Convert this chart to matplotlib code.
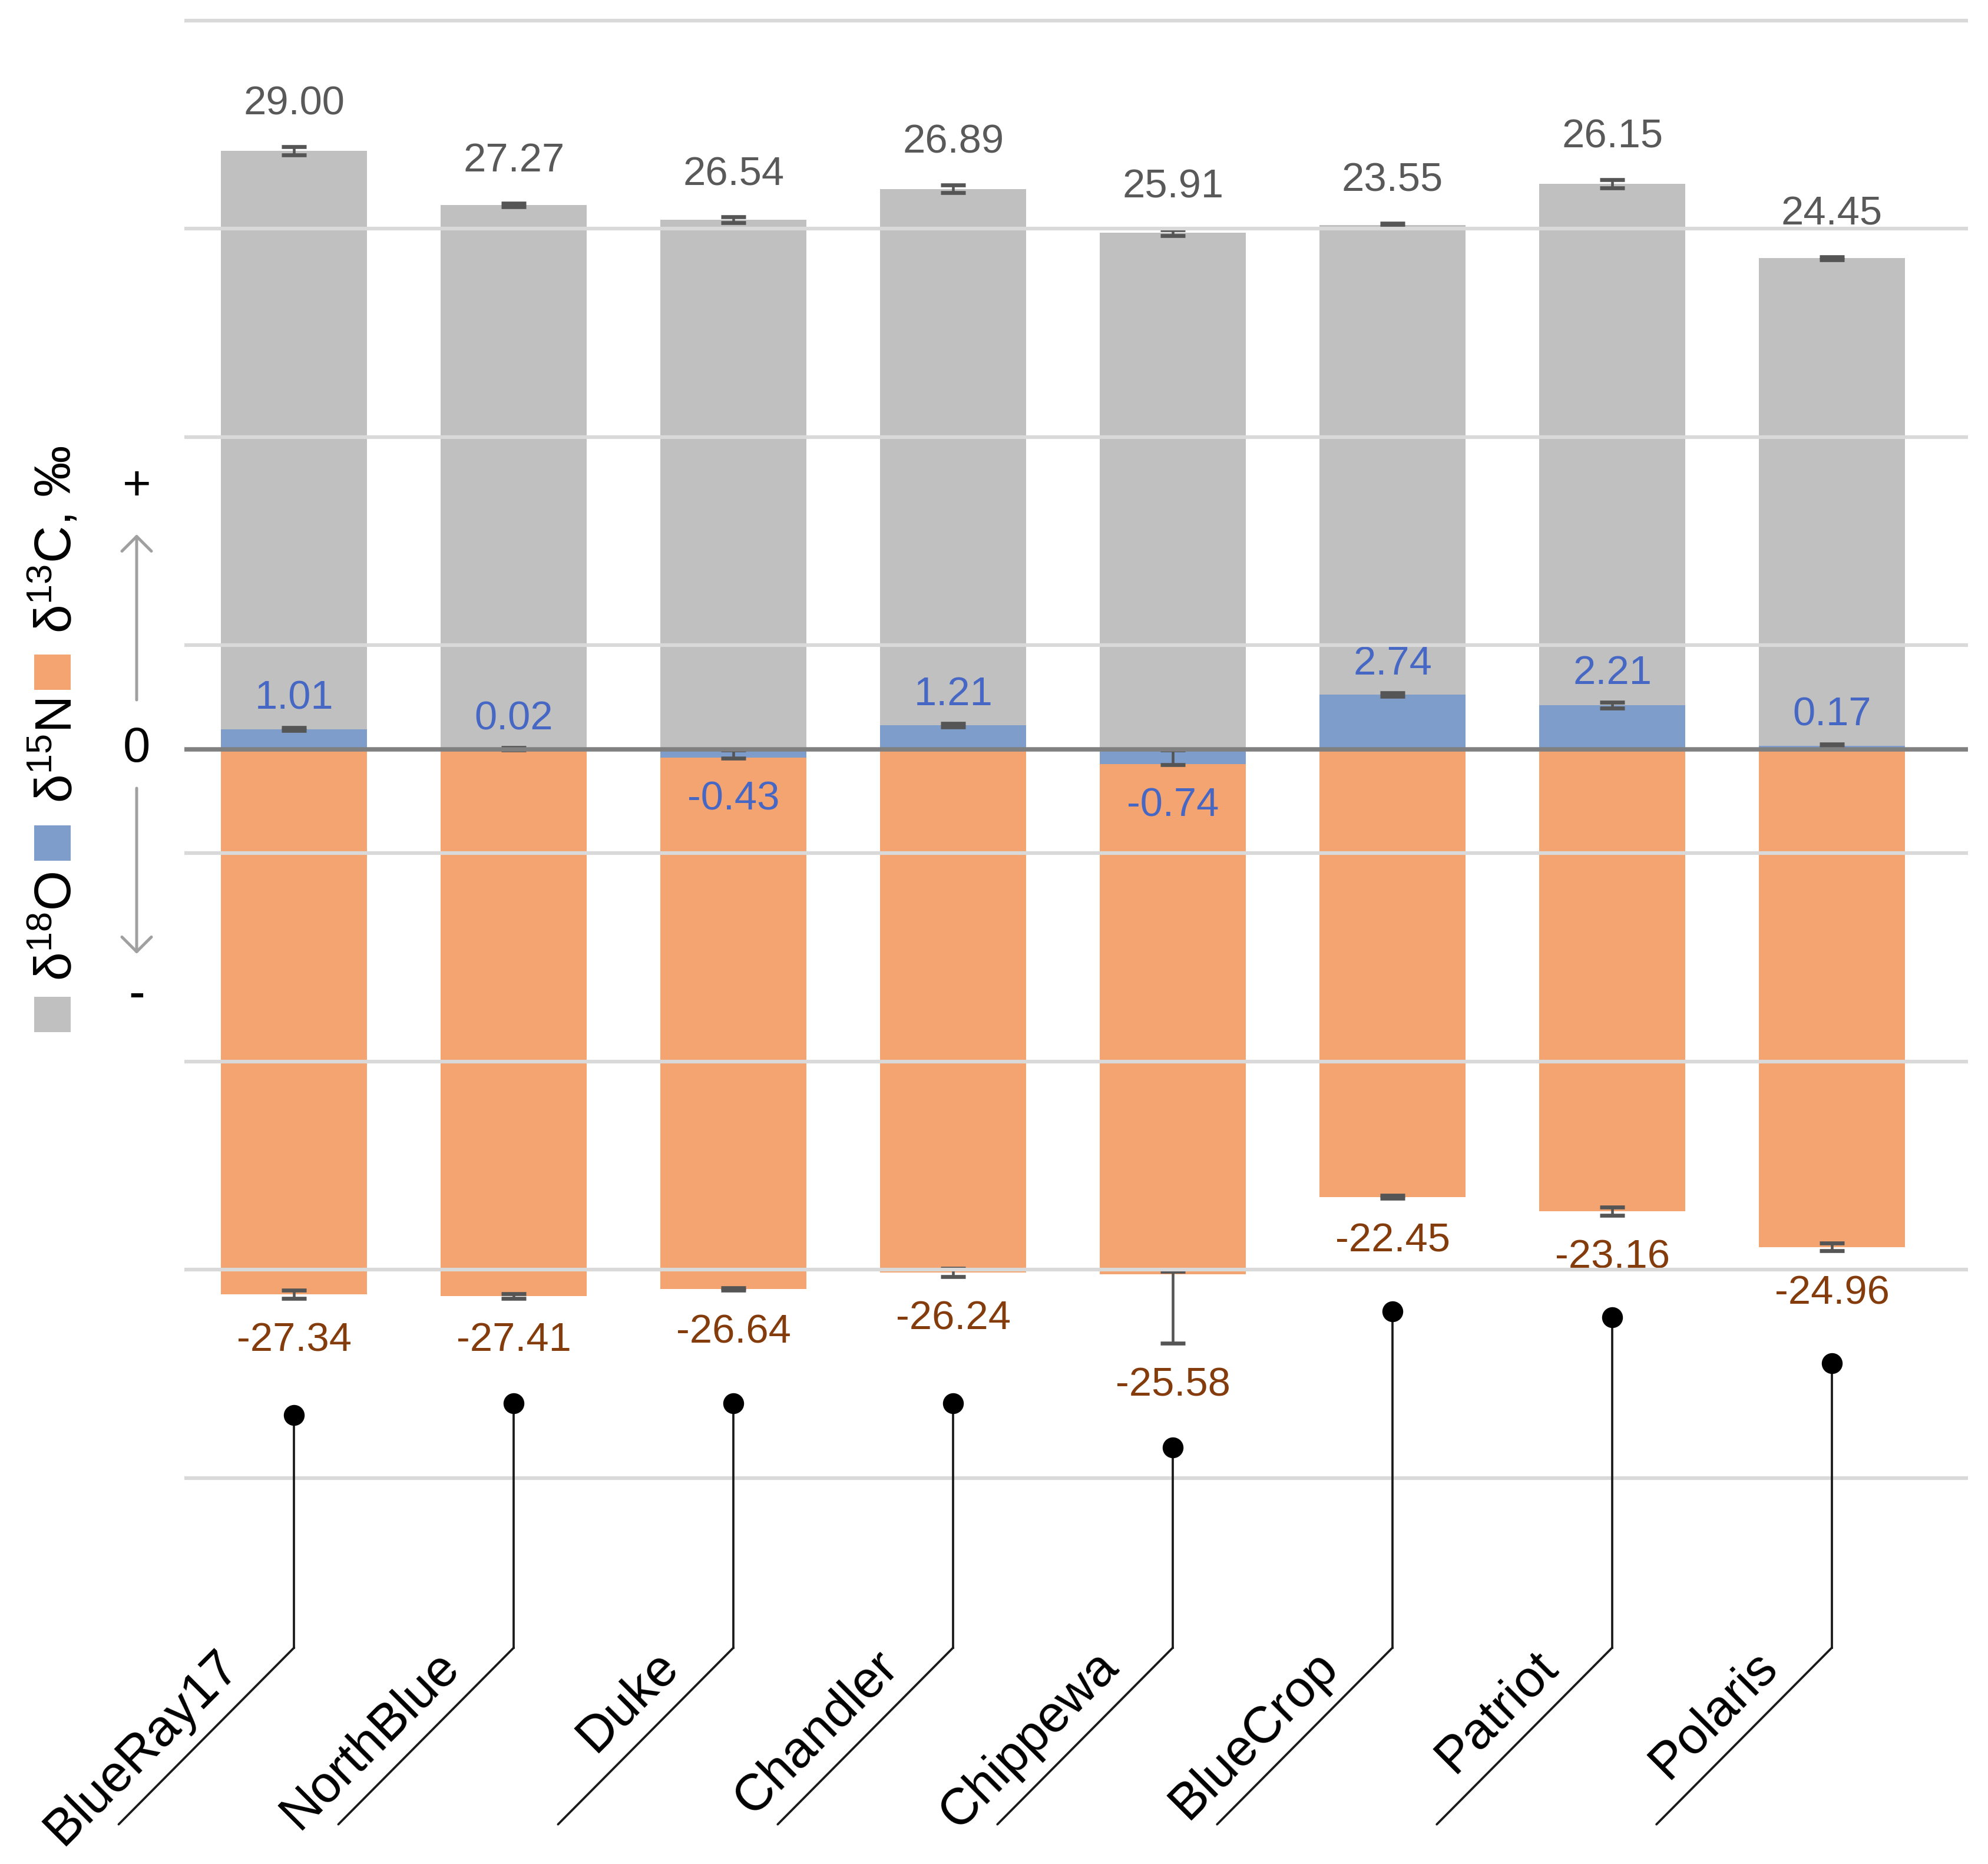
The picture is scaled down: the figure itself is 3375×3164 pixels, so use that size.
import numpy as np
import matplotlib
matplotlib.use("Agg")
import matplotlib.pyplot as plt
from matplotlib.patches import Rectangle, FancyArrowPatch

plt.rcParams['font.family'] = ['Liberation Sans', 'DejaVu Sans']
plt.rcParams['mathtext.fontset'] = 'custom'
plt.rcParams['mathtext.rm'] = 'Liberation Sans'
plt.rcParams['mathtext.default'] = 'regular'

CULTIVARS = ["BlueRay17", "NorthBlue", "Duke", "Chandler",
             "Chippewa", "BlueCrop", "Patriot", "Polaris"]
D18O = [29.00, 27.27, 26.54, 26.89, 25.91, 23.55, 26.15, 24.45]
D15N = [1.01, 0.02, -0.43, 1.21, -0.74, 2.74, 2.21, 0.17]
D13C = [-27.34, -27.41, -26.64, -26.24, -25.58, -22.45, -23.16, -24.96]

# error bars (below / above the end of each bar)
D18O_ERR = [0.2, 0.08, 0.15, 0.2, 0.15, 0.08, 0.2, 0.08]
D15N_ERR_LO = [0.08, 0.05, 0.03, 0.08, 0.03, 0.08, 0.15, 0.1]
D15N_ERR_HI = [0.08, 0.05, 0.4, 0.08, 0.7, 0.08, 0.15, 0.1]
D13C_ERR_LO = [0.2, 0.12, 0.05, 0.2, 3.47, 0.08, 0.2, 0.2]
D13C_ERR_HI = [0.2, 0.12, 0.05, 0.2, 0.13, 0.08, 0.2, 0.2]

# depth of the callout dot that links each bar to its name
CALLOUT_Y = [-33.4, -32.8, -32.8, -32.8, -35.0, -28.2, -28.5, -30.8]
KNEE_Y = -45.05

GRAY = '#c0c0c0'
BLUE = '#7f9dcb'
ORANGE = '#f3a470'
GRID_STEP = 10.44


def fig_xy(px, py):
    # original image pixels -> figure fraction
    return px / 3375, 1 - py / 3164


def main():
    fig = plt.figure(figsize=(11.25, 10.5467), dpi=300)
    ax = fig.add_axes([0.0927, 0, 0.8973, 1])
    ax.set_xlim(-0.5, 7.62)
    ax.set_ylim(-55.9, 37.57)
    ax.axis('off')

    x = np.arange(len(CULTIVARS))
    o = np.array(D18O)
    n = np.array(D15N)
    c = np.array(D13C)
    n_pos = np.where(n > 0, n, 0)
    n_neg = np.where(n < 0, n, 0)
    w = 0.665

    ax.bar(x, n, width=w, color=BLUE, zorder=2)
    ax.bar(x, o, width=w, bottom=n_pos, color=GRAY, zorder=2)
    ax.bar(x, c, width=w, bottom=n_neg, color=ORANGE, zorder=2)

    o_top = n_pos + o
    c_end = n_neg + c
    eb = dict(fmt='none', ecolor='#555555', elinewidth=1.1, capsize=5,
              capthick=1.6, zorder=3)
    ax.errorbar(x, o_top, yerr=D18O_ERR, **eb)
    ax.errorbar(x, n, yerr=[D15N_ERR_LO, D15N_ERR_HI], **eb)
    ax.errorbar(x, c_end, yerr=[D13C_ERR_LO, D13C_ERR_HI], **eb)

    for k in range(4):
        for s in (1, -1):
            ax.axhline(s * (k + 0.5) * GRID_STEP, color='#d9d9d9', lw=1.5, zorder=4)
    ax.axhline(0, color='#808080', lw=1.8, zorder=4)

    lab = dict(textcoords='offset points', ha='center', va='baseline',
               fontsize=16.5, zorder=3.5)
    for i in x:
        ax.annotate(f'{o[i]:.2f}', xy=(i, o_top[i] + D18O_ERR[i]), xytext=(0, 13),
                    color='#595959', **lab)
        if n[i] >= 0:
            ax.annotate(f'{n[i]:.2f}', xy=(i, n[i] + D15N_ERR_HI[i]), xytext=(0, 7.5),
                        color='#4668c4', **lab)
        else:
            ax.annotate(f'{n[i]:.2f}', xy=(i, n[i] - D15N_ERR_LO[i]), xytext=(0, -21),
                        color='#4668c4', **lab)
        ax.annotate(f'{c[i]:.2f}', xy=(i, c_end[i] - D13C_ERR_LO[i]), xytext=(0, -21.5),
                    color='#843c0c', **lab)

    # callouts with the cultivar names
    for i, name in enumerate(CULTIVARS):
        ax.plot([i, i], [CALLOUT_Y[i], KNEE_Y], color='#1a1a1a', lw=0.9, zorder=5)
        ax.plot(i, CALLOUT_Y[i], 'o', ms=7.5, color='black', zorder=5)
        ax.annotate('', xy=(i, KNEE_Y), xytext=(-71.5, -72), textcoords='offset points',
                    arrowprops=dict(arrowstyle='-', lw=0.9, color='#1a1a1a',
                                    shrinkA=0, shrinkB=0), zorder=5)
        ax.annotate(name, xy=(i, KNEE_Y), xytext=(-21.6, -8.4), textcoords='offset points',
                    rotation=45, rotation_mode='anchor', ha='right', va='baseline',
                    fontsize=21, color='black', zorder=5)

    # left side: sign marks and arrows
    fig.text(*fig_xy(232, 1293), '0', fontsize=20, ha='center', va='baseline')
    fig.text(*fig_xy(232, 848), '+', fontsize=20, ha='center', va='baseline')
    fig.text(*fig_xy(232, 1712), '-', fontsize=20, ha='center', va='baseline')
    for y0, y1 in ((1188, 907), (1338, 1619)):
        fig.add_artist(FancyArrowPatch(fig_xy(232, y0), fig_xy(232, y1),
                                       transform=fig.transFigure,
                                       arrowstyle='->,head_length=0.6,head_width=0.6',
                                       mutation_scale=10, lw=1.2, color='#a0a0a0',
                                       shrinkA=0, shrinkB=0))

    # y label built as a legend
    pieces = [(GRAY, 1752, 'δ$^{18}$O', 1665),
              (BLUE, 1461, 'δ$^{15}$N', 1363),
              (ORANGE, 1171, 'δ$^{13}$C, ‰', 1075)]
    for color, sq_bottom, text, text_start in pieces:
        fx, fy = fig_xy(58, sq_bottom)
        fig.add_artist(Rectangle((fx, fy), 62 / 3375, 60 / 3164,
                                 transform=fig.transFigure, color=color, lw=0))
        fig.text(*fig_xy(121, text_start), text, fontsize=21, rotation=90,
                 rotation_mode='anchor', ha='left', va='baseline')

    fig.savefig('out.png', dpi=300)


if __name__ == "__main__":
    main()
